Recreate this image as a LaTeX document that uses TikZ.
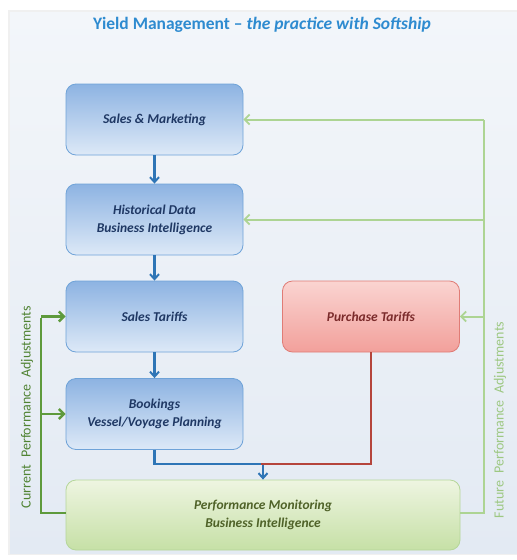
\documentclass[tikz,border=0pt]{standalone}
\usepackage{fontspec}
\setmainfont{Carlito}
\usetikzlibrary{arrows.meta}
\definecolor{titleblue}{HTML}{2E8BD0}
\definecolor{bluetop}{HTML}{8DB3E2}
\definecolor{bluebot}{HTML}{DDE9F7}
\definecolor{blueedge}{HTML}{6FA3D8}
\definecolor{navy}{HTML}{1F3864}
\definecolor{redtop}{HTML}{FAD4D1}
\definecolor{redbot}{HTML}{F2A09B}
\definecolor{rededge}{HTML}{E07C76}
\definecolor{darkred}{HTML}{7B2B2B}
\definecolor{greentop}{HTML}{EEF5E1}
\definecolor{greenbot}{HTML}{C6E0A6}
\definecolor{greenedge}{HTML}{B5D69A}
\definecolor{darkgreentxt}{HTML}{4F6228}
\definecolor{lightgreen}{HTML}{ADD493}
\definecolor{darkgreen}{HTML}{5E9A3C}
\definecolor{arrowblue}{HTML}{2E75B6}
\definecolor{linered}{HTML}{B5453C}
\definecolor{bgtop}{HTML}{F3F6FA}
\definecolor{bgbot}{HTML}{E3EAF3}
\tikzset{
  box/.style={rounded corners=10pt, minimum width=177pt, minimum height=71pt,
    align=center, font=\fontsize{13.5}{18}\selectfont\bfseries\itshape, inner sep=0pt},
  bluebox/.style={box, draw=blueedge, line width=0.8pt, top color=bluetop, bottom color=bluebot, text=navy},
  redbox/.style={box, draw=rededge, line width=0.8pt, top color=redtop, bottom color=redbot, text=darkred},
  greenbox/.style={box, draw=greenedge, line width=0.8pt, top color=greentop, bottom color=greenbot, text=darkgreentxt},
  bluearrow/.style={draw=arrowblue, line width=2.2pt, -{Straight Barb[length=5pt,width=9pt,line width=2pt]}},
  bluearrowline/.style={draw=arrowblue, line width=2.2pt},
  redline/.style={draw=linered, line width=2.2pt},
  futurearrow/.style={draw=lightgreen, line width=2pt, -{Straight Barb[length=5pt,width=10pt,line width=1.8pt]}},
  futureline/.style={draw=lightgreen, line width=2pt},
  currentarrow/.style={draw=darkgreen, line width=2.8pt, -{Straight Barb[length=5pt,width=10pt,line width=2.4pt]}},
  currentline/.style={draw=darkgreen, line width=2.8pt},
  sidelabel/.style={rotate=90, font=\fontsize{14}{16}\selectfont}
}
\begin{document}
\begin{tikzpicture}[x=1pt,y=-1pt]
\useasboundingbox (0,0) rectangle (517,560);
\fill[white] (0,0) rectangle (517,560);
\fill[black!6] (8,10) rectangle (517,555);
\shade[top color=bgtop, bottom color=bgbot] (10,12) rectangle (517,553);
\node[text=titleblue, font=\fontsize{17.5}{20}\selectfont\bfseries] (title) at (262,25)
  {Yield Management -- \textit{the practice with Softship}};

\node[bluebox] (sm) at (154.5,119.5) {Sales \& Marketing};
\node[bluebox] (hd) at (154.5,219.5) {Historical Data\\Business Intelligence};
\node[bluebox] (st) at (154.5,316.5) {Sales Tariffs};
\node[bluebox] (bk) at (154.5,414) {Bookings\\Vessel/Voyage  Planning};
\node[redbox] (pt) at (371,316.5) {Purchase Tariffs};
\node[greenbox, minimum width=394pt, minimum height=70pt] (pm) at (263,515)
  {Performance Monitoring\\Business Intelligence};

\coordinate (join) at (263,464);
\coordinate (fr) at (484,513);
\coordinate (cl) at (41,513);

% blue flow
\draw[bluearrow] (sm) -- (hd);
\draw[bluearrow] (hd) -- (st);
\draw[bluearrow] (st) -- (bk);
\draw[bluearrowline] (bk.south) |- (join);
\draw[redline] (pt.south) |- ([xshift=-2pt]join);
\draw[bluearrow] ([yshift=-1.1pt]join) -- (pm.north);

% future adjustments
\draw[futureline] (pm.east |- fr) -- (fr) -- (fr |- sm.east);
\draw[futurearrow] (fr |- sm.east) -- (sm.east);
\draw[futurearrow] (fr |- hd.east) -- (hd.east);
\draw[futurearrow] (fr |- pt.east) -- (pt.east);

% current adjustments
\draw[currentline] (pm.west |- cl) -- (cl) -- ([yshift=-1.4pt]cl |- st.west);
\draw[currentarrow] (cl |- st.west) -- (st.west);
\draw[currentarrow] (cl |- bk.west) -- (bk.west);

\node[sidelabel, text=darkgreen!85!black] (cur) at (27,407) {Current\hspace{0.5em}Performance\hspace{0.5em}Adjustments};
\node[sidelabel, text=lightgreen!80!darkgreen] (fut) at (500,420) {Future\hspace{0.5em}Performance\hspace{0.5em}Adjustments};
\end{tikzpicture}
\end{document}
